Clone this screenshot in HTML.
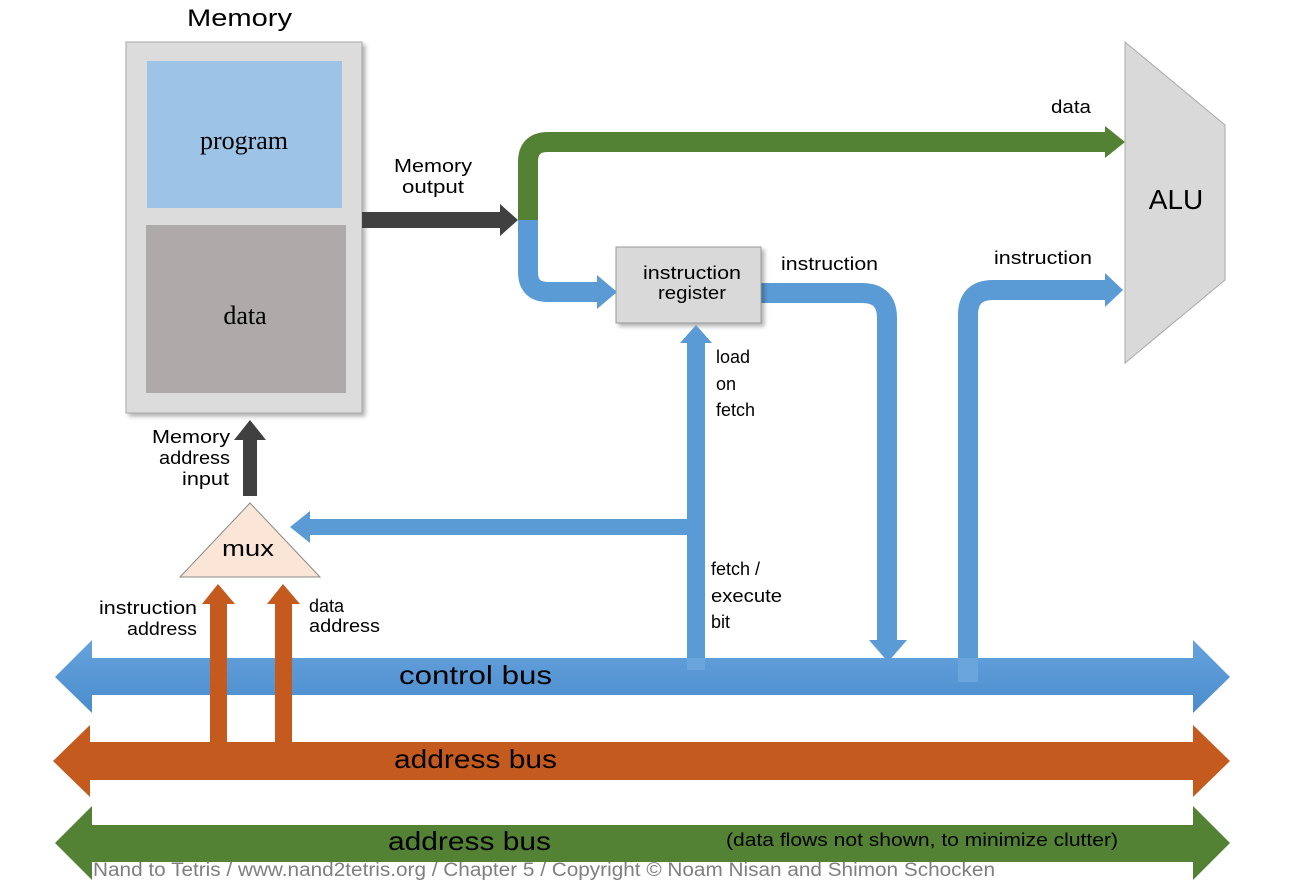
<!DOCTYPE html>
<html><head><meta charset="utf-8"><style>
body{margin:0;background:#fff}
svg text{font-family:"Liberation Sans",sans-serif;fill:#000}
</style></head><body>
<svg width="1312" height="886" viewBox="0 0 1312 886" xmlns="http://www.w3.org/2000/svg">
<defs>
<filter id="sh" x="-10%" y="-10%" width="130%" height="130%"><feDropShadow dx="3" dy="3" stdDeviation="2" flood-color="#000" flood-opacity="0.3"/></filter>
<linearGradient id="bg" x1="0" y1="0" x2="0" y2="1"><stop offset="0" stop-color="#66a3dd"/><stop offset="1" stop-color="#4a8ccc"/></linearGradient>
</defs>
<text x="187" y="26" font-size="24" textLength="105" lengthAdjust="spacingAndGlyphs">Memory</text>
<rect x="126" y="42" width="236" height="371" fill="#dcdcdc" stroke="#aaa" filter="url(#sh)"/>
<rect x="147" y="61" width="195" height="147" fill="#9dc3e6"/>
<rect x="146" y="225" width="200" height="168" fill="#aeaaaa"/>
<text x="244" y="149" font-size="26" text-anchor="middle" style="font-family:'Liberation Serif',serif">program</text>
<text x="245" y="324" font-size="26" text-anchor="middle" style="font-family:'Liberation Serif',serif">data</text>
<polygon points="362,212 500,212 500,204 518,220 500,236 500,228 362,228" fill="#404040"/>
<text x="394" y="172" font-size="18" textLength="78" lengthAdjust="spacingAndGlyphs">Memory</text>
<text x="402" y="193" font-size="18" textLength="62" lengthAdjust="spacingAndGlyphs">output</text>
<path d="M528,220 L528,162 Q528,142 548,142 L1105,142" fill="none" stroke="#548235" stroke-width="20"/>
<polygon points="1105,126 1125,142 1105,158" fill="#548235"/>
<text x="1051" y="113" font-size="18" textLength="40" lengthAdjust="spacingAndGlyphs">data</text>
<path d="M528,220 L528,272 Q528,292 548,292 L597,292" fill="none" stroke="#5b9bd5" stroke-width="20"/>
<polygon points="597,275 617,292 597,309" fill="#5b9bd5"/>
<path d="M760,293 L862,293 Q887,293 887,318 L887,640" fill="none" stroke="#5b9bd5" stroke-width="20"/>
<polygon points="869,640 907,640 888,662" fill="#5b9bd5"/>
<text x="781" y="270" font-size="18" textLength="97" lengthAdjust="spacingAndGlyphs">instruction</text>
<path d="M968,682 L968,315 Q968,290 993,290 L1105,290" fill="none" stroke="#5b9bd5" stroke-width="20"/>
<polygon points="1105,273 1123,290 1105,307" fill="#5b9bd5"/>
<text x="994" y="264" font-size="18" textLength="98" lengthAdjust="spacingAndGlyphs">instruction</text>
<rect x="616" y="247" width="145" height="76" fill="#d9d9d9" stroke="#999" filter="url(#sh)"/>
<text x="643" y="279" font-size="18" textLength="98" lengthAdjust="spacingAndGlyphs">instruction</text>
<text x="658" y="299" font-size="18" textLength="68" lengthAdjust="spacingAndGlyphs">register</text>
<polygon points="1125,42 1225,125 1225,280 1125,363" fill="#d9d9d9" stroke="#aaa"/>
<text x="1176" y="209" font-size="28" text-anchor="middle">ALU</text>
<rect x="687" y="343" width="18" height="327" fill="#5b9bd5"/>
<polygon points="680,343 712,343 696,325" fill="#5b9bd5"/>
<rect x="310" y="519" width="386" height="16" fill="#5b9bd5"/>
<polygon points="310,511 290,527 310,543" fill="#5b9bd5"/>
<text x="716" y="363" font-size="18">load</text>
<text x="716" y="390" font-size="18">on</text>
<text x="716" y="416" font-size="18">fetch</text>
<text x="711" y="575" font-size="18">fetch /</text>
<text x="711" y="602" font-size="18" textLength="71" lengthAdjust="spacingAndGlyphs">execute</text>
<text x="711" y="628" font-size="18">bit</text>
<rect x="243" y="440" width="14" height="56" fill="#404040"/>
<polygon points="234,440 266,440 250,420" fill="#404040"/>
<text x="152" y="443" font-size="18" textLength="78" lengthAdjust="spacingAndGlyphs">Memory</text>
<text x="159" y="464" font-size="18" textLength="71" lengthAdjust="spacingAndGlyphs">address</text>
<text x="182" y="485" font-size="18" textLength="47" lengthAdjust="spacingAndGlyphs">input</text>
<polygon points="55,677 92,640 92,658 1193,658 1193,640 1230,677 1193,713 1193,695 92,695 92,713" fill="url(#bg)"/>
<rect x="687" y="658" width="18" height="12" fill="#6aa6dc"/>
<rect x="958" y="658" width="20" height="24" fill="#6aa6dc"/>
<text x="399" y="684" font-size="26" textLength="153" lengthAdjust="spacingAndGlyphs">control bus</text>
<rect x="210" y="604" width="17" height="140" fill="#c55a1f"/>
<polygon points="202,604 235,604 218,584" fill="#c55a1f"/>
<rect x="275" y="604" width="17" height="140" fill="#c55a1f"/>
<polygon points="267,604 300,604 283,584" fill="#c55a1f"/>
<text x="99" y="614" font-size="18" textLength="98" lengthAdjust="spacingAndGlyphs">instruction</text>
<text x="127" y="635" font-size="18" textLength="70" lengthAdjust="spacingAndGlyphs">address</text>
<text x="309" y="612" font-size="18">data</text>
<text x="309" y="632" font-size="18" textLength="71" lengthAdjust="spacingAndGlyphs">address</text>
<polygon points="180,577 320,577 250,503" fill="#fbe5d6" stroke="#888"/>
<text x="222" y="556" font-size="22" textLength="52" lengthAdjust="spacingAndGlyphs">mux</text>
<polygon points="53,761 90,725 90,742 1193,742 1193,725 1230,761 1193,797 1193,780 90,780 90,797" fill="#c55a1f"/>
<text x="394" y="768" font-size="26" textLength="163" lengthAdjust="spacingAndGlyphs">address bus</text>
<polygon points="55,843 92,806 92,825 1193,825 1193,806 1230,843 1193,880 1193,862 92,862 92,880" fill="#548235"/>
<text x="388" y="850" font-size="26" textLength="163" lengthAdjust="spacingAndGlyphs">address bus</text>
<text x="726" y="846" font-size="18" textLength="392" lengthAdjust="spacingAndGlyphs">(data flows not shown, to minimize clutter)</text>
<text x="93" y="876" font-size="19" style="fill:#7f7f7f" textLength="902" lengthAdjust="spacingAndGlyphs">Nand to Tetris / www.nand2tetris.org / Chapter 5 / Copyright © Noam Nisan and Shimon Schocken</text>
</svg>
</body></html>
